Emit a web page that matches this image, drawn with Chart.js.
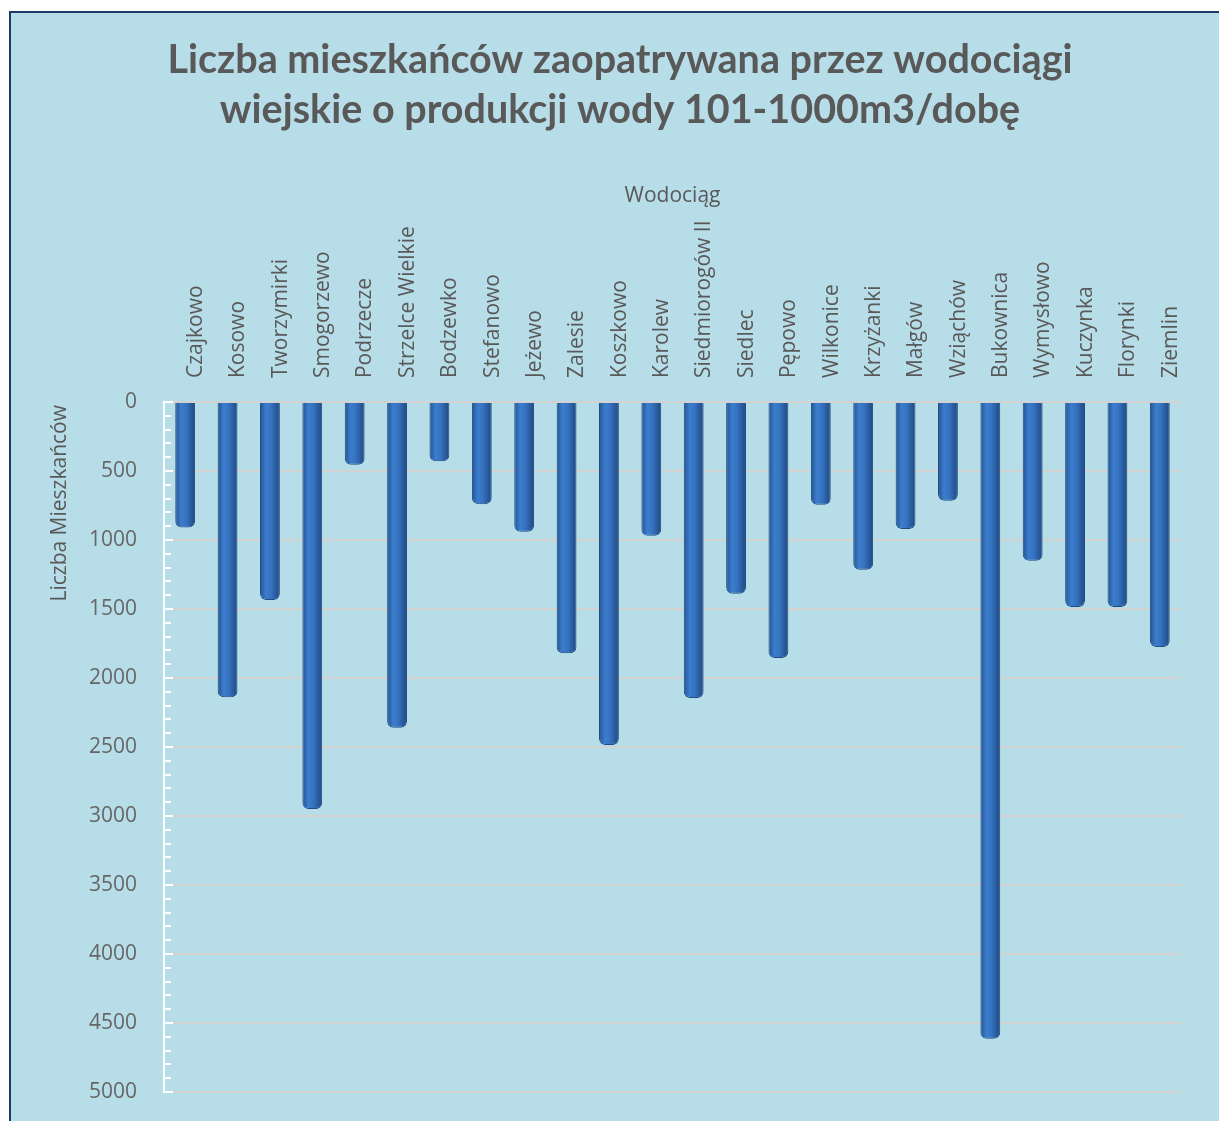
<!DOCTYPE html>
<html lang="pl">
<head>
<meta charset="utf-8">
<title>Liczba mieszkańców zaopatrywana przez wodociągi wiejskie</title>
<script src="https://cdn.jsdelivr.net/npm/chart.js@4.4.0/dist/chart.umd.min.js"></script>
<style>
    html, body { margin: 0; padding: 0; background: #ffffff; overflow: hidden; }
    #marco {
        position: absolute; left: 9px; top: 11px; width: 1300px; height: 1200px;
        background: #b7dde8; border: 2px solid #1f3864;
    }
    #grafico { position: absolute; left: 0; top: 0; }
</style>
</head>
<body>
<div id="marco"></div>
<canvas id="grafico" width="1219" height="1121"></canvas>
<script>
var tytul = [
    'Liczba mieszkańców zaopatrywana przez wodociągi',
    'wiejskie o produkcji wody 101-1000m3/dobę'
];
var tytulOsiX = 'Wodociąg';
var tytulOsiY = 'Liczba Mieszkańców';
var wodociagi = [
    'Czajkowo', 'Kosowo', 'Tworzymirki', 'Smogorzewo', 'Podrzecze', 'Strzelce Wielkie',
    'Bodzewko', 'Stefanowo', 'Jeżewo', 'Zalesie', 'Koszkowo', 'Karolew',
    'Siedmiorogów II', 'Siedlec', 'Pępowo', 'Wilkonice', 'Krzyżanki', 'Małgów',
    'Wziąchów', 'Bukownica', 'Wymysłowo', 'Kuczynka', 'Florynki', 'Ziemlin'
];
var mieszkancy = [
    910, 2140, 1435, 2950, 455, 2360,
    430, 740, 940, 1820, 2485, 970,
    2145, 1390, 1855, 745, 1215, 920,
    715, 4615, 1150, 1485, 1485, 1775
];
var osY = { min: 0, max: 5000, krok: 500, krokPomocniczy: 100 };

var szary = '#595959';

var wypelnienie = function (context) {
    var chart = context.chart;
    var x = chart.scales.x;
    if (!chart.chartArea || !x) {
        return '#3671bd';
    }
    var srodek = x.getPixelForValue(context.dataIndex);
    var szer = x.width / wodociagi.length * 0.47;
    var g = chart.ctx.createLinearGradient(srodek - szer / 2, 0, srodek + szer / 2, 0);
    g.addColorStop(0, '#24538f');
    g.addColorStop(0.3, '#3b7dcd');
    g.addColorStop(0.55, '#3673c1');
    g.addColorStop(1, '#1f4880');
    return g;
};

// male biale kreski na osi Y co 100 + tytul osi Y przy gorze
var osYDodatki = {
    id: 'osYDodatki',
    afterDraw: function (chart) {
        var y = chart.scales.y;
        var ctx = chart.ctx;
        var lewo = chart.chartArea.left;
        ctx.save();
        ctx.strokeStyle = '#ffffff';
        ctx.lineWidth = 2;
        for (var v = osY.min; v <= osY.max; v += osY.krokPomocniczy) {
            var py = Math.round(y.getPixelForValue(v));
            ctx.beginPath();
            ctx.moveTo(lewo, py);
            ctx.lineTo(lewo + (v % osY.krok === 0 ? 9 : 7), py);
            ctx.stroke();
        }
        ctx.translate(60, chart.chartArea.top + 3);
        ctx.rotate(-Math.PI / 2);
        ctx.fillStyle = szary;
        ctx.font = "21px 'Open Sans'";
        ctx.textAlign = 'right';
        ctx.textBaseline = 'middle';
        ctx.fillText(tytulOsiY, 0, 0);
        ctx.restore();
    }
};

Chart.defaults.font.family = "'Open Sans', sans-serif";

var ctx = document.getElementById('grafico').getContext('2d');
new Chart(ctx, {
    type: 'bar',
    data: {
        labels: wodociagi,
        datasets: [
            {
                label: tytulOsiY,
                data: mieszkancy,
                backgroundColor: wypelnienie,
                borderColor: '#1f4a82',
                borderWidth: 1,
                borderRadius: 6,
                barPercentage: 0.52,
                categoryPercentage: 0.9
            }
        ]
    },
    options: {
        responsive: false,
        animation: false,
        layout: {
            padding: { left: 59, right: 38, top: 0, bottom: 29 }
        },
        plugins: {
            legend: { display: false },
            tooltip: { enabled: false },
            title: {
                display: true,
                text: tytul,
                color: szary,
                font: { family: 'Lato', size: 39.5, weight: 'bold', lineHeight: 1.266 },
                padding: { top: 35, bottom: 15 }
            }
        },
        scales: {
            x: {
                position: 'top',
                offset: true,
                grid: { display: false },
                border: { display: false },
                ticks: {
                    color: szary,
                    font: { size: 21 },
                    minRotation: 90,
                    maxRotation: 90,
                    autoSkip: false,
                    padding: 16,
                    labelOffset: 36
                },
                title: {
                    display: true,
                    text: tytulOsiX,
                    color: szary,
                    font: { size: 21 },
                    padding: { top: 33, bottom: 0 }
                },
                afterFit: function (s) {
                    s.height = 252;
                    s.paddingLeft = 0;
                    s.paddingRight = 0;
                    s.paddingTop = 0;
                    s.paddingBottom = 0;
                }
            },
            y: {
                reverse: true,
                min: osY.min,
                max: osY.max,
                grid: {
                    color: '#d2d2d2',
                    lineWidth: 2,
                    drawTicks: false
                },
                border: { display: true, color: '#ffffff', width: 2 },
                ticks: {
                    stepSize: osY.krok,
                    color: '#666666',
                    font: { size: 21 },
                    padding: 27,
                    callback: function (v) {
                        return String(v);
                    }
                },
                title: { display: false },
                afterFit: function (s) {
                    s.width = 105;
                    s.paddingTop = 0;
                    s.paddingBottom = 0;
                }
            }
        }
    },
    plugins: [osYDodatki]
});
</script>
</body>
</html>
